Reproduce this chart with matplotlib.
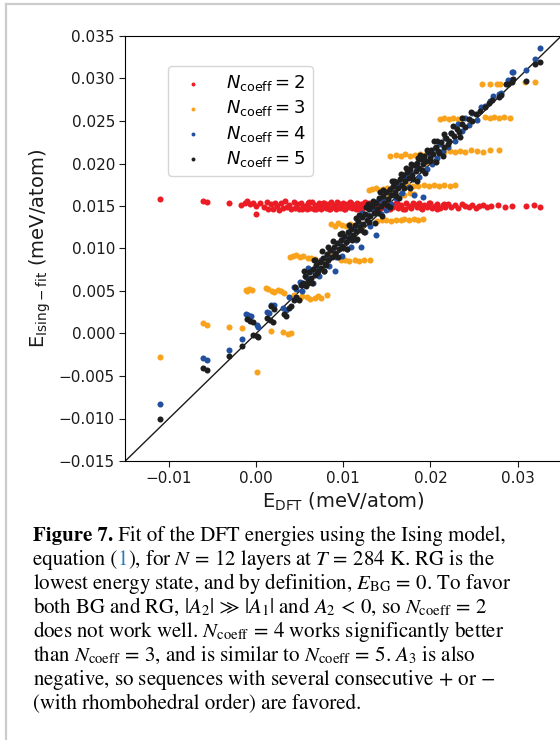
import matplotlib
matplotlib.use("Agg")
import matplotlib.pyplot as plt
import numpy as np
from matplotlib.lines import Line2D
from matplotlib.ticker import FuncFormatter

# values, in units of 1e-3 meV/atom
red_x = [-11.0, -6.1, -5.6, -3.1, -1.7, -1.3, -1.0, -0.7, -0.3, 0.0,
         0.0, 0.4, 0.9, 1.2, 1.4, 1.7, 1.9, 2.2, 2.4, 2.6,
         2.9, 3.1, 3.3, 3.6, 3.8, 4.0, 4.3, 4.5, 4.7, 4.9,
         5.2, 5.4, 5.6, 5.8, 6.0, 6.2, 6.4, 6.6, 6.8, 7.0,
         7.2, 7.4, 7.6, 7.8, 8.0, 8.2, 8.4, 8.6, 8.8, 9.0,
         9.2, 9.4, 9.6, 9.8, 10.0, 10.2, 10.4, 10.6, 10.8, 11.0,
         11.2, 11.4, 11.6, 11.8, 12.0, 12.2, 12.4, 12.6, 12.8, 13.0,
         13.3, 13.6, 13.9, 14.2, 14.5, 14.8, 15.1, 15.4, 15.7, 16.0,
         16.3, 16.6, 16.9, 17.2, 17.5, 17.8, 18.1, 18.4, 18.7, 19.0,
         19.3, 19.6, 19.9, 20.2, 20.5, 20.8, 21.1, 21.4, 21.7, 22.0,
         22.4, 22.8, 23.2, 23.6, 24.0, 24.4, 24.8, 25.2, 25.6, 26.0,
         26.5, 26.9, 27.7, 28.5, 29.3, 31.0, 31.9, 32.6,
         5.3, 6.1, 6.9, 7.7, 8.5, 9.3, 10.1, 10.9, 11.7, 12.5,
         13.5, 14.4, 15.3, 16.2, 17.1, 18.0, 18.9, 19.8, 20.7, 21.6]
red_y = [15.8, 15.6, 15.5, 15.3, 15.1, 15.4, 15.6, 15.2, 15.3, 15.0,
         14.1, 15.4, 14.9, 15.5, 14.7, 15.2, 14.6, 15.4, 15.0, 14.5,
         15.3, 14.8, 15.6, 14.9, 15.1, 14.6, 15.5, 14.8, 15.2, 14.7,
         15.4, 14.9, 15.0, 14.6, 15.3, 14.8, 15.5, 14.7, 15.1, 14.9,
         15.3, 14.6, 15.0, 15.4, 14.8, 15.2, 14.7, 15.5, 14.9, 15.1,
         14.6, 15.3, 14.8, 15.0, 15.4, 14.7, 15.2, 14.9, 15.5, 14.8,
         15.1, 14.6, 15.3, 14.9, 15.2, 14.7, 15.4, 15.0, 14.8, 15.3,
         14.7, 15.1, 15.4, 14.8, 15.0, 15.3, 14.7, 15.2, 14.9, 15.4,
         14.8, 15.1, 14.7, 15.3, 15.0, 14.8, 15.2, 14.9, 15.3, 14.7,
         15.1, 14.9, 15.3, 14.8, 15.0, 15.2, 14.8, 15.1, 14.9, 15.2,
         14.9, 15.1, 14.8, 15.2, 15.0, 14.9, 15.1, 14.8, 15.0, 15.1,
         14.9, 15.0, 15.1, 14.9, 15.0, 15.0, 15.1, 14.9,
         14.6, 15.5, 14.7, 15.4, 14.6, 15.5, 14.7, 15.4, 14.6, 15.5,
         14.7, 15.4, 14.6, 15.3, 14.7, 15.4, 14.8, 15.3, 14.7, 15.2]

orange_x = [-11.0, -6.1, -5.6, -3.1, -1.6, 0.05, 1.7, 3.1, 3.7, 4.0,
            -1.2, -1.0, -0.8, -0.5, 1.1, 1.4, 1.8, 2.1, 2.5, 2.8, 3.2,
            4.3, 4.6, 5.0, 5.3, 5.8, 6.2, 6.7, 7.1, 7.5, 8.1,
            3.9, 4.2, 4.6, 5.0, 5.4, 5.9, 6.3, 6.8, 7.4, 8.0,
            9.7, 10.2, 10.7, 11.3, 11.8, 12.4, 13.1,
            8.6, 9.0, 9.4, 9.9, 10.3, 10.8, 11.2, 11.7, 13.9, 14.4,
            14.9, 15.5, 16.0, 16.6, 17.0, 17.5, 18.1, 18.6, 19.1,
            15.2, 15.7, 16.3, 17.0, 17.6, 18.1, 12.9, 13.3, 13.7, 14.1,
            14.6, 15.0, 15.5, 15.9, 16.4, 16.9, 17.4, 18.0, 18.6, 19.2,
            19.8, 20.4, 21.0, 21.6, 22.2, 22.8,
            15.4, 16.0, 16.6, 17.1, 17.6, 18.2, 18.8, 19.4, 19.9, 21.6,
            22.2, 22.8, 23.4, 24.0, 24.6, 25.3, 26.0, 26.8, 27.9,
            21.1, 21.6, 22.1, 22.6, 23.1, 23.6, 26.3, 26.8, 27.3, 27.8,
            28.4, 29.1, 25.9, 26.8, 27.6, 28.0, 30.8, 32.0,
            6.0, 8.5, 12.0, 19.5, 24.5]
orange_y = [-2.8, 1.2, 1.0, 0.8, 0.6, -4.5, 0.3, 0.2, -0.1, 0.1,
            5.1, 5.0, 5.2, 5.1, 5.3, 5.2, 5.0, 4.9, 5.1, 5.0, 4.8,
            4.5, 4.3, 4.2, 4.4, 4.3, 4.1, 4.2, 4.4, 4.2, 4.5,
            9.0, 9.1, 9.2, 9.0, 9.1, 8.9, 8.9, 8.8, 8.7, 8.8,
            8.6, 8.7, 8.5, 8.6, 8.5, 8.7, 8.6,
            12.9, 12.7, 13.0, 12.8, 12.6, 12.9, 12.7, 12.8, 13.2, 13.4,
            13.3, 13.2, 13.4, 13.3, 13.5, 13.4, 13.5, 13.4, 13.5,
            16.2, 16.4, 16.1, 16.3, 16.5, 16.4, 16.9, 17.0, 17.1, 16.9,
            17.0, 17.1, 17.0, 17.2, 17.4, 17.3, 17.5, 17.4, 17.3, 17.5,
            17.4, 17.5, 17.3, 17.5, 17.4, 17.5,
            20.9, 21.0, 20.9, 21.1, 20.9, 21.0, 21.1, 21.0, 21.1, 21.4,
            21.5, 21.3, 21.5, 21.4, 21.6, 21.5, 21.4, 21.6, 21.6,
            25.2, 25.3, 25.2, 25.3, 25.2, 25.3, 25.5, 25.4, 25.5, 25.4,
            25.5, 25.4, 29.3, 29.3, 29.4, 29.4, 29.6, 29.6,
            6.5, 9.3, 12.5, 20.2, 25.0]

blue_x = [-11.0, -6.1, -5.6, -3.1, -1.6, -1.2, -0.9, -0.6, 0.05, 0.2,
          1.2, 1.5, 1.7, 2.1, 3.1, 3.4, 3.8, 4.4,
          4.6, 5.0, 5.3, 5.7, 5.9, 6.3, 6.5, 6.9, 7.2, 7.5,
          7.8, 8.1, 8.4, 8.7, 9.0, 9.2, 9.5, 9.8, 10.1, 10.4,
          10.7, 10.9, 11.2, 11.5, 11.8, 12.0, 12.2, 12.5, 12.8, 13.1,
          13.4, 13.8, 14.0, 14.3, 14.6, 14.9, 15.2, 15.5, 15.8, 16.1,
          16.4, 16.7, 17.0, 17.2, 17.5, 17.8, 18.1, 18.4, 18.7, 19.1,
          19.3, 19.6, 19.9, 20.2, 20.5, 20.8, 21.1, 21.4, 21.7, 22.0,
          22.4, 22.8, 23.2, 23.6, 24.0, 24.4, 24.8, 25.3, 25.8, 26.3,
          26.8, 27.2, 27.9, 28.1, 28.9, 29.2, 29.3, 29.5, 30.9, 32.0,
          32.5]
blue_y = [-8.3, -2.9, -3.1, -1.9, -0.7, 2.3, 2.2, 2.1, 1.0, 0.8,
          2.5, 2.4, 3.4, 3.3, 3.0, 2.8, 4.3, 5.5,
          5.2, 6.1, 5.0, 6.6, 7.7, 7.3, 6.0, 7.9, 6.8, 8.6,
          7.4, 9.2, 8.0, 9.8, 7.3, 9.0, 10.6, 9.1, 11.3, 10.0,
          11.8, 10.2, 12.4, 11.0, 12.9, 10.2, 14.2, 12.0, 13.9, 12.7,
          14.8, 11.6, 15.6, 14.1, 16.0, 14.5, 16.8, 15.2, 17.3, 15.9,
          17.6, 16.5, 18.3, 18.6, 17.2, 18.9, 16.3, 19.5, 18.4, 16.1,
          20.4, 19.3, 21.1, 20.0, 21.8, 20.6, 22.3, 21.5, 23.0, 22.0,
          23.6, 22.7, 24.6, 23.8, 25.3, 24.5, 25.9, 25.1, 26.6, 26.8,
          27.4, 28.0, 28.2, 28.3, 29.8, 29.8, 30.8, 30.8, 31.0, 32.3,
          33.6]

black_x = [-11.0, -6.1, -5.6, -3.1, -1.6, -1.1, -0.7, -0.3, -0.3, 0.05,
           0.2, 1.2, 1.6, 1.9, 1.7, 2.1, 3.2, 3.4, 3.8, 4.0,
           4.4, 4.6, 4.9, 4.5, 5.1, 5.7,
           5.4, 5.6, 5.9, 6.1, 6.3, 6.5, 6.7, 6.9, 7.1, 7.3,
           7.5, 7.7, 7.9, 8.1, 8.3, 8.5, 8.7, 8.9, 9.1, 9.3,
           9.5, 9.7, 9.9, 10.1, 10.3, 10.5, 10.7, 10.9, 11.1, 11.3,
           11.5, 11.7, 11.9, 12.1, 12.3, 12.5, 12.7, 12.9, 13.1, 13.3,
           13.5, 13.7, 13.9, 14.1, 14.3, 14.5, 14.7, 14.9, 15.1, 15.3,
           15.5, 15.7, 15.9, 16.1, 16.3, 16.5, 16.7, 16.9, 17.1, 17.3,
           17.5, 17.7, 17.9, 18.1, 18.3, 18.5, 18.7, 18.9, 19.1, 19.3,
           19.5, 19.7, 19.9, 20.1, 20.3, 20.6, 20.9, 21.2, 21.5, 21.8,
           22.1, 22.4, 22.7, 23.0, 23.3, 23.6, 24.0, 24.4, 24.8, 25.2,
           25.7, 26.2, 26.7, 27.0, 27.9, 28.1, 28.7, 28.9, 29.3, 29.5,
           30.9, 32.0, 32.5,
           6.0, 7.0, 8.0, 9.0, 10.0, 11.0, 12.0, 13.0, 14.0, 15.0,
           16.0, 17.0, 18.0, 19.0, 20.0, 21.0, 22.0, 6.6, 8.2, 9.8,
           11.4, 12.8, 14.2, 15.6, 17.2, 18.8, 20.4,
           5.5, 6.8, 7.6, 8.8, 9.6, 10.6, 11.8, 12.6, 13.4, 14.6,
           15.8, 16.6, 17.8, 18.6, 19.6, 20.8, 21.6, 22.6, 23.6, 24.6,
           6.4, 7.8, 9.4, 10.4, 11.6, 12.4, 13.6, 14.4, 15.4, 16.4,
           17.6, 18.4, 19.4, 20.6, 21.4, 23.4]
black_y = [-10.0, -4.1, -4.3, -2.6, -1.5, 1.7, 1.5, 1.4, -0.2, -0.3,
           -0.45, 1.8, 1.6, 1.4, 3.2, 2.9, 2.3, 2.1, 3.0, 3.2,
           4.0, 4.3, 3.9, 5.5, 5.7, 5.6,
           6.0, 6.8, 5.9, 7.2, 6.5, 7.6, 6.9, 8.1, 7.4, 8.4,
           7.7, 8.9, 8.2, 9.3, 8.6, 9.8, 9.0, 10.2, 9.5, 10.6,
           9.9, 11.0, 10.3, 11.5, 10.8, 11.9, 11.2, 12.3, 11.6, 12.8,
           12.1, 13.2, 12.5, 13.7, 12.9, 14.1, 13.3, 14.6, 13.8, 15.0,
           14.2, 15.4, 14.6, 15.9, 15.0, 16.2, 15.4, 16.6, 15.8, 17.0,
           16.3, 17.4, 16.7, 17.8, 17.1, 18.2, 17.5, 18.6, 17.9, 19.0,
           18.3, 19.4, 18.7, 19.8, 19.1, 20.1, 19.5, 20.5, 19.9, 20.9,
           20.3, 21.3, 20.7, 21.6, 21.1, 22.0, 21.5, 22.5, 22.0, 23.0,
           22.6, 23.6, 23.2, 24.1, 23.7, 24.7, 24.3, 25.2, 25.0, 25.8,
           26.2, 26.7, 27.1, 27.5, 27.8, 28.1, 29.4, 29.4, 29.6, 30.0,
           29.7, 31.7, 32.0,
           6.2, 7.1, 8.1, 9.2, 10.1, 11.0, 12.2, 13.1, 14.2, 15.1,
           16.2, 17.1, 18.2, 19.2, 20.3, 21.2, 22.3, 8.6, 10.2, 11.8,
           13.6, 15.2, 16.7, 18.0, 19.5, 21.0, 22.6,
           7.3, 8.7, 9.7, 10.9, 11.7, 12.8, 14.0, 14.9, 15.6, 16.9,
           18.0, 18.8, 19.9, 20.6, 21.6, 22.7, 23.5, 24.4, 25.3, 26.1,
           6.0, 7.3, 9.0, 9.9, 11.1, 11.9, 13.0, 13.8, 14.9, 15.9,
           17.1, 17.9, 18.9, 20.2, 20.9, 23.1]

series = [
    (red_x, red_y, "#ec1c24", r"$N_{\mathrm{coeff}} = 2$"),
    (orange_x, orange_y, "#f9a21b", r"$N_{\mathrm{coeff}} = 3$"),
    (blue_x, blue_y, "#22509f", r"$N_{\mathrm{coeff}} = 4$"),
    (black_x, black_y, "#1e1e1e", r"$N_{\mathrm{coeff}} = 5$"),
]

fig = plt.figure(figsize=(5.6, 7.4), dpi=100)
ax = fig.add_axes([125.3 / 560, 279 / 740, 436 / 560, 425 / 740])

lim = (-0.015, 0.035)
ax.plot(lim, lim, color="#1a1a1a", lw=1.0, zorder=1)
for xs, ys, col, lab in series:
    ax.scatter(np.array(xs) / 1000, np.array(ys) / 1000, s=19, color=col,
               linewidths=0, label=lab, zorder=2)

ax.set_xlim(lim)
ax.set_ylim(lim)
ax.set_xticks([-0.01, 0.0, 0.01, 0.02, 0.03])
ax.set_yticks(np.arange(-0.015, 0.0351, 0.005))
ax.xaxis.set_major_formatter(FuncFormatter(lambda v, p: f"{v:.2f}".replace("-", "\u2212")))
ax.yaxis.set_major_formatter(FuncFormatter(lambda v, p: f"{v:.3f}".replace("-", "\u2212")))
ax.tick_params(labelsize=11, length=4, color="#1a1a1a", labelcolor="#1a1a1a")
ax.spines["right"].set_visible(False)

ax.set_xlabel(r"E$_{\mathrm{DFT}}$ (meV/atom)", fontsize=14, color="#1a1a1a", labelpad=3)
ax.set_ylabel(r"E$_{\mathrm{Ising-fit}}$ (meV/atom)", fontsize=14, color="#1a1a1a", labelpad=4)

ax.legend(loc="upper left", bbox_to_anchor=(0.098, 0.929), borderaxespad=0,
          fontsize=13, markerscale=0.65, scatterpoints=1, labelspacing=0.28)

# page border lines
fig.add_artist(Line2D([6 / 560, 6 / 560], [0, 1 - 4 / 740], color="#cccccc", lw=1.6))
fig.add_artist(Line2D([6 / 560, 1], [1 - 4 / 740, 1 - 4 / 740], color="#cccccc", lw=1.6))

# caption
cap_kw = dict(fontsize=15, family="STIXGeneral", math_fontfamily="stix",
              va="baseline", ha="left")
caption = [
    [("Figure 7.", "black", "bold"), (" Fit of the DFT energies using the Ising model,", "black", "normal")],
    [("equation (", "black", "normal"), ("1", "#2b7bb9", "normal"),
     (r"), for $N\,=\,12$ layers at $T\,=\,284$ K. RG is the", "black", "normal")],
    [(r"lowest energy state, and by definition, $E_{\mathrm{BG}}\,=\,0$. To favor", "black", "normal")],
    [(r"both BG and RG, $|A_2|\,\gg\,|A_1|$ and $A_2\,<\,0$, so $N_{\mathrm{coeff}}\,=\,2$", "black", "normal")],
    [(r"does not work well. $N_{\mathrm{coeff}}\,=\,4$ works significantly better", "black", "normal")],
    [(r"than $N_{\mathrm{coeff}}\,=\,3$, and is similar to $N_{\mathrm{coeff}}\,=\,5$. $A_3$ is also", "black", "normal")],
    [(r"negative, so sequences with several consecutive $+$ or $-$", "black", "normal")],
    [("(with rhombohedral order) are favored.", "black", "normal")],
]
fig.canvas.draw()
renderer = fig.canvas.get_renderer()
base_py = 541
for i, line in enumerate(caption):
    x = 33 / 560
    y = 1 - (base_py + i * 24) / 740
    for txt, col, wt in line:
        t = fig.text(x, y, txt, fontweight=wt, color=col, **cap_kw)
        bb = t.get_window_extent(renderer)
        x += bb.width / fig.bbox.width

fig.savefig("out.png", dpi=100)
